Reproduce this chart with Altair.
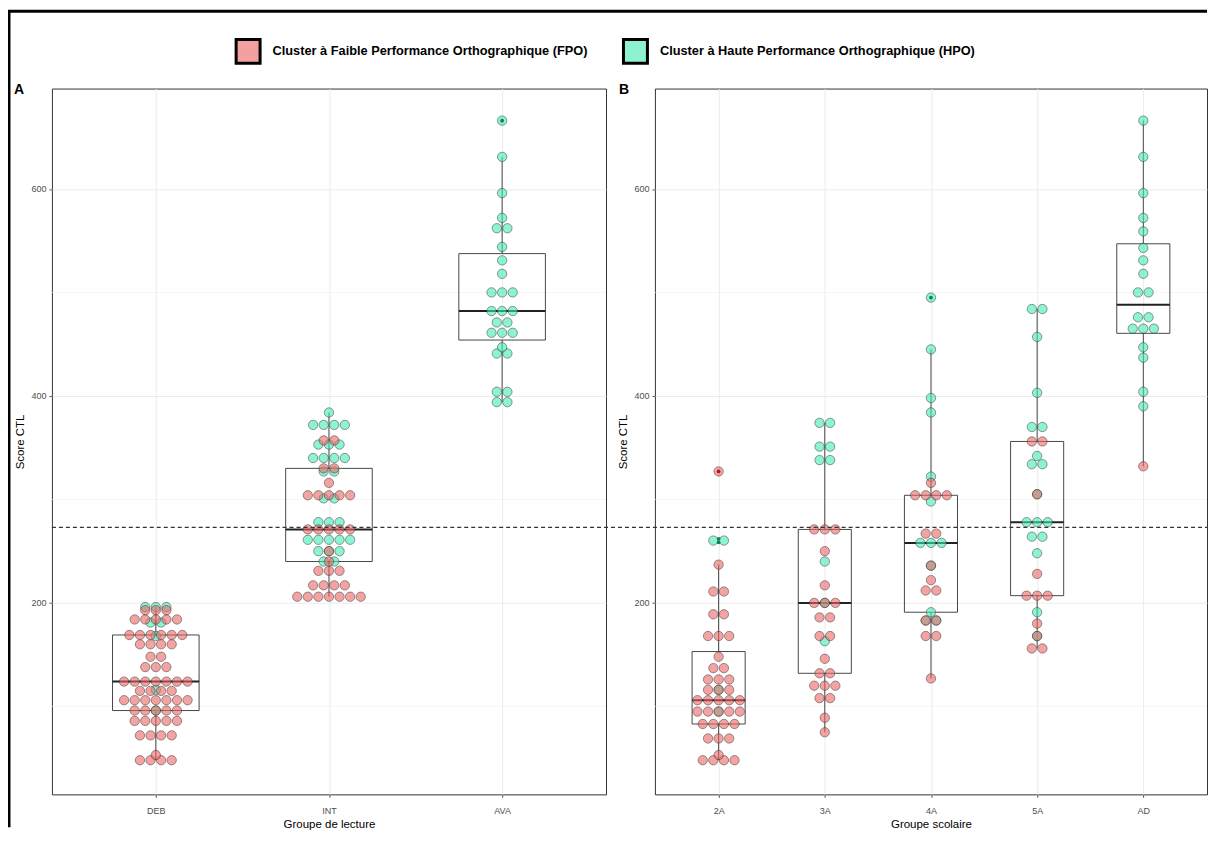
import altair as alt
import numpy as np
import pandas as pd

FPO = "Cluster à Faible Performance Orthographique (FPO)"
HPO = "Cluster à Haute Performance Orthographique (HPO)"
CLUSTERS = [FPO, HPO]
COLORS = ["#ED6666", "#41EBB4"]
SWATCH_COLORS = ["#F3A0A0", "#8CF2D0"]
OUTLIER_COLORS = ["#A52222", "#0E7F5C"]

GROUPS_A = ["DEB", "INT", "AVA"]
GROUPS_B = ["2A", "3A", "4A", "5A", "AD"]
Y_TICKS = [200, 400, 600]
Y_MINOR = [100, 300, 500]
THRESHOLD = [273]

# ---- Panel A : Groupe de lecture ----
DEB_FPO = [193, 193, 193, 184, 184, 184, 184, 184, 169, 169, 169, 169, 169, 169,
           160, 160, 160, 160, 148, 148, 138, 138, 138, 124, 124, 124, 124, 124, 124, 124,
           115, 115, 115, 115, 106, 106, 106, 106, 106, 106, 106, 96, 96, 96, 96, 96,
           86, 86, 86, 86, 86, 72, 72, 72, 72, 53, 48, 48, 48, 48]
DEB_HPO = [196, 196, 196, 181, 181, 168, 116, 96]
INT_FPO = [357, 357, 330, 330, 316, 304, 304, 304, 304, 304, 271, 271, 271, 271, 271,
           250, 240, 231, 231, 231, 217, 217, 217, 217, 206, 206, 206, 206, 206, 206, 206]
INT_HPO = [384, 372, 372, 372, 372, 353, 353, 353, 340, 340, 340, 340, 327, 327, 301, 301,
           278, 278, 278, 261, 261, 261, 261, 261, 250, 250, 250, 240, 240]
AVA_FPO = []
AVA_HPO = [666, 631, 596, 572, 562, 562, 544, 531, 518, 500, 500, 500, 482, 482, 482,
           471, 471, 461, 461, 461, 447, 441, 441, 404, 404, 394, 394]

# ---- Panel B : Groupe scolaire ----
G2A_FPO = [327, 237, 211, 211, 189, 189, 168, 168, 168, 148, 137, 137, 126, 126, 126,
           116, 116, 116, 106, 106, 106, 106, 106, 95, 95, 95, 95, 95, 83, 83, 83, 83,
           69, 69, 69, 53, 48, 48, 48, 48]
G2A_HPO = [262, 258.5, 116, 95]
G3A_FPO = [271, 271, 271, 250, 217, 200, 200, 200, 186, 186, 168, 168, 146, 132, 132,
           120, 120, 120, 108, 108, 89, 75]
G3A_HPO = [374, 374, 351, 351, 338, 338, 240, 200, 163]
G4A_FPO = [316, 304, 304, 304, 304, 267, 267, 236, 222, 212, 212, 183, 183, 168, 168, 127]
G4A_HPO = [495, 445, 398, 384, 322, 298, 258, 258, 258, 236, 191, 183, 183]
G5A_FPO = [356, 356, 305, 228, 207, 207, 207, 180, 168, 156, 156]
G5A_HPO = [484, 484, 457, 403, 370, 370, 342, 334, 334, 305, 278, 278, 278, 264, 264,
           248, 191, 168]
GAD_FPO = [332]
GAD_HPO = [666, 631, 596, 572, 559, 543, 531, 518, 500, 500, 476, 476, 465, 465, 465,
           447, 437, 404, 390]

DATA_A = {"DEB": (DEB_FPO, DEB_HPO), "INT": (INT_FPO, INT_HPO), "AVA": (AVA_FPO, AVA_HPO)}
DATA_B = {"2A": (G2A_FPO, G2A_HPO), "3A": (G3A_FPO, G3A_HPO), "4A": (G4A_FPO, G4A_HPO),
          "5A": (G5A_FPO, G5A_HPO), "AD": (GAD_FPO, GAD_HPO)}

WA, WB, H = 555, 553, 707
SPACING = 49
Y_DOMAIN = [15, 697]
DOT_PX = 10.6
BINWIDTH = 5
FONT = "Liberation Sans"


def densitybin(vals, bw):
    bins, end = [], -np.inf
    for v in sorted(vals):
        if v >= end:
            bins.append([])
            end = v + bw
        bins[-1].append(v)
    return [((min(b) + max(b)) / 2, len(b)) for b in bins]


def build(groups, data, width):
    n = len(groups)
    unit_px = width / (n + 0.2)
    dots, boxes, outs = [], [], []
    for gi, g in enumerate(groups):
        fpo, hpo = data[g]
        for cl, vals in zip(CLUSTERS, (fpo, hpo)):
            for center, cnt in densitybin(vals, BINWIDTH):
                for k in range(cnt):
                    off = (k - (cnt - 1) / 2) * DOT_PX / unit_px
                    dots.append({"x": gi + off, "value": center, "cluster": cl})
        allv = np.array(fpo + hpo, dtype=float)
        q1, med, q3 = np.percentile(allv, [25, 50, 75])
        iqr = q3 - q1
        lo_f, hi_f = q1 - 1.5 * iqr, q3 + 1.5 * iqr
        inside = allv[(allv >= lo_f) & (allv <= hi_f)]
        boxes.append(dict(x=gi, x1=gi - 0.25, x2=gi + 0.25, q1=q1, med=med, q3=q3,
                          lo=inside.min(), hi=inside.max()))
        for cl, vals in zip(CLUSTERS, (fpo, hpo)):
            for v in vals:
                if v < lo_f or v > hi_f:
                    outs.append(dict(x=gi, value=v, cluster=cl))
    return (pd.DataFrame(dots), pd.DataFrame(boxes),
            pd.DataFrame(outs, columns=["x", "value", "cluster"]))


def panel(groups, data, width, xtitle, tag, tag_dx, extra=None):
    dots, boxes, outs = build(groups, data, width)
    n = len(groups)
    xs = alt.Scale(domain=[-0.6, n - 0.4], nice=False, zero=False)
    ys = alt.Scale(domain=Y_DOMAIN, nice=False, zero=False)
    label_expr = "[" + ",".join("'%s'" % g for g in groups) + "][datum.value]"
    xaxis = alt.Axis(values=list(range(n)), labelExpr=label_expr, title=xtitle,
                     labelPadding=9, titlePadding=3)
    yaxis = alt.Axis(values=Y_TICKS, title="Score CTL", format="d")

    def X(f):
        return alt.X(f, type="quantitative", scale=xs, axis=xaxis)

    def Y(f):
        return alt.Y(f, type="quantitative", scale=ys, axis=yaxis)

    minor = alt.Chart(pd.DataFrame({"v": Y_MINOR})).mark_rule(
        color="#EFEFEF", strokeWidth=0.6).encode(y=Y("v"))
    base_b = alt.Chart(boxes)
    box = base_b.mark_rect(fillOpacity=0, stroke="#333333", strokeWidth=0.9).encode(
        x=X("x1"), x2="x2", y=Y("q1"), y2="q3")
    wh_hi = base_b.mark_rule(color="#333333", strokeWidth=0.9).encode(x=X("x"), y=Y("q3"), y2="hi")
    wh_lo = base_b.mark_rule(color="#333333", strokeWidth=0.9).encode(x=X("x"), y=Y("lo"), y2="q1")
    med = base_b.mark_rule(color="#222222", strokeWidth=2).encode(x=X("x1"), x2="x2", y=Y("med"))
    layers = [minor, box, wh_hi, wh_lo, med]
    # HPO dots first, FPO dots drawn over them
    for cl, col in [(HPO, COLORS[1]), (FPO, COLORS[0])]:
        layers.append(alt.Chart(dots).transform_filter(alt.datum.cluster == cl).mark_circle(
            size=88, fill=col, fillOpacity=0.6, stroke="#333333", strokeWidth=0.7,
            strokeOpacity=0.7).encode(x=X("x"), y=Y("value")))
    for cl, col in zip(CLUSTERS, OUTLIER_COLORS):
        layers.append(alt.Chart(outs).transform_filter(alt.datum.cluster == cl).mark_circle(
            size=14, color=col, opacity=1).encode(x=X("x"), y=Y("value")))
    tag_chart = alt.Chart(pd.DataFrame({"t": [tag]})).mark_text(
        align="left", baseline="middle", fontSize=14, fontWeight="bold", font=FONT, color="black"
    ).encode(text="t:N", x=alt.value(tag_dx), y=alt.value(1))
    layers.append(tag_chart)
    if extra is not None:
        layers.extend(extra(ys, yaxis))
    return alt.layer(*layers).properties(width=width, height=H)


def legend_and_border_layers(ys, yaxis):
    leg = alt.Chart(pd.DataFrame({"cluster": pd.Series([], dtype=str)})).mark_square(
        opacity=1).encode(
        fill=alt.Fill("cluster:N", scale=alt.Scale(domain=CLUSTERS, range=SWATCH_COLORS),
                      legend=alt.Legend(title=None, orient="none", legendX=183, legendY=-51,
                                        direction="horizontal", symbolType="square",
                                        symbolSize=576, symbolStrokeColor="black",
                                        symbolStrokeWidth=3, symbolOpacity=1, labelFont=FONT,
                                        labelFontWeight="bold", labelFontSize=12.8,
                                        labelLimit=600, labelColor="black",
                                        columnPadding=29, labelOffset=11)))
    d = alt.Chart(pd.DataFrame({"d": [0]}))
    right_end = WA + SPACING + WB
    left = d.mark_rule(color="black", strokeWidth=3).encode(
        x=alt.value(-43), y=alt.value(-77.5), y2=alt.value(740))
    top = d.mark_rule(color="black", strokeWidth=3).encode(
        x=alt.value(-44.5), x2=alt.value(right_end), y=alt.value(-77.5))
    return [leg, left, top]


def dashed_layer(ys, yaxis):
    r = alt.Chart(pd.DataFrame({"v": THRESHOLD})).mark_rule(
        strokeDash=[4, 3], color="#333333", strokeWidth=1.2).encode(
        y=alt.Y("v:Q", scale=ys, axis=yaxis), x=alt.value(-(WA + SPACING)), x2=alt.value(WB))
    return [r]


pA = panel(GROUPS_A, DATA_A, WA, "Groupe de lecture", "A", -38, legend_and_border_layers)
pB = panel(GROUPS_B, DATA_B, WB, "Groupe scolaire", "B", -36, dashed_layer)

chart = alt.hconcat(pA, pB, spacing=SPACING, bounds="flush").properties(
    padding={"left": -3, "top": 0, "right": 0, "bottom": 0}
).configure_view(
    stroke="#333333", strokeWidth=1
).configure_axis(
    grid=True, gridColor="#EBEBEB", gridWidth=1, domain=False,
    tickColor="#333333", tickSize=3, tickWidth=0.8,
    labelColor="#4D4D4D", labelFontSize=9, labelFont=FONT, labelPadding=3,
    titleFont=FONT, titleFontSize=11.5, titleFontWeight="normal", titleColor="black",
    titlePadding=5
)

chart.save("out.html", embed_options={"renderer": "svg", "actions": False})
